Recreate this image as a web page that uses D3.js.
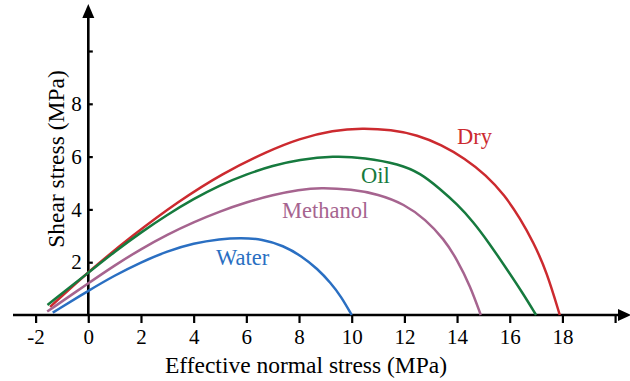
<!DOCTYPE html>
<html>
<head>
<meta charset="utf-8">
<script src="https://cdn.jsdelivr.net/npm/d3@7/dist/d3.min.js"></script>
<style>
  html, body { margin: 0; padding: 0; background: #fff; }
  svg { display: block; }
  text { font-family: "Liberation Serif", "Times New Roman", serif; }
</style>
</head>
<body>
<svg id="chart" width="630" height="381"></svg>
<script>
// Failure envelopes: effective normal stress (MPa) vs shear stress (MPa)
const drySigma = [-1.45, 0, 1.7, 3.4, 5.1, 6.8, 8.0, 9.3, 10.4, 11.5, 12.5, 13.4, 14.3, 15.1, 15.8, 16.4, 16.9, 17.4, 17.9];
const dryTau   = [0.31, 1.64, 3.03, 4.29, 5.37, 6.2, 6.68, 7.0, 7.08, 7.02, 6.82, 6.45, 5.93, 5.3, 4.55, 3.65, 2.75, 1.65, 0];

const oilSigma = [-1.55, 0, 1.0, 2.0, 3.0, 4.0, 5.0, 6.0, 7.0, 8.0, 9.3, 10.5, 11.8, 12.6, 13.35, 14.0, 14.6, 15.2, 15.9, 16.5, 17.0];
const oilTau   = [0.38, 1.6, 2.4, 3.13, 3.8, 4.4, 4.92, 5.33, 5.66, 5.88, 6.03, 5.96, 5.72, 5.38, 4.78, 4.2, 3.55, 2.75, 1.72, 0.82, 0];

const methanolSigma = [-1.56, 0, 1.0, 2.0, 3.0, 4.0, 5.0, 6.0, 7.0, 8.0, 8.8, 10.0, 11.0, 12.0, 12.8, 13.5, 14.0, 14.5, 14.9];
const methanolTau   = [0.13, 1.2, 1.88, 2.5, 3.05, 3.52, 3.93, 4.27, 4.55, 4.74, 4.83, 4.76, 4.58, 4.2, 3.62, 2.88, 2.1, 1.1, 0];

const waterSigma = [-1.35, 0, 1.0, 2.0, 3.0, 4.0, 5.0, 5.8, 6.6, 7.4, 8.1, 8.7, 9.2, 9.6, 10.0];
const waterTau   = [0.09, 0.92, 1.5, 2.0, 2.42, 2.72, 2.88, 2.93, 2.87, 2.63, 2.23, 1.75, 1.22, 0.7, 0];

const seriesNames  = ["Dry", "Oil", "Methanol", "Water"];
const seriesColors = ["#cc2a2f", "#167a3e", "#a6648f", "#2a6fc2"];

const xTickValues = [-2, 0, 2, 4, 6, 8, 10, 12, 14, 16, 18, 20];
const xTickLabels = ["-2", "0", "2", "4", "6", "8", "10", "12", "14", "16", "18", ""];
const yTickValues = [2, 4, 6, 8, 10];
const yTickLabels = ["2", "4", "6", "8", ""];

const xTitle = "Effective normal stress (MPa)";
const yTitle = "Shear stress (MPa)";

const series = [
  { name: seriesNames[0], color: seriesColors[0], s: drySigma, t: dryTau, lx: 457, ly: 144 },
  { name: seriesNames[1], color: seriesColors[1], s: oilSigma, t: oilTau, lx: 361, ly: 183 },
  { name: seriesNames[2], color: seriesColors[2], s: methanolSigma, t: methanolTau, lx: 282, ly: 218 },
  { name: seriesNames[3], color: seriesColors[3], s: waterSigma, t: waterTau, lx: 216, ly: 265 }
];

const svg = d3.select("#chart");

const x = d3.scaleLinear().domain([0, 10]).range([88.3, 351.7]);
const y = d3.scaleLinear().domain([0, 10]).range([315, 51]);

const axisColor = "#000";
const axisWidth = 2.6;

// Axis lines with arrowheads
svg.append("line")
  .attr("x1", 13).attr("x2", 622)
  .attr("y1", y(0)).attr("y2", y(0))
  .attr("stroke", axisColor).attr("stroke-width", axisWidth);
svg.append("path")
  .attr("d", `M${631},${y(0)} L${618},${y(0) - 6} L${618},${y(0) + 6} Z`)
  .attr("fill", axisColor);

svg.append("line")
  .attr("x1", x(0)).attr("x2", x(0))
  .attr("y1", y(0) + 1).attr("y2", 14)
  .attr("stroke", axisColor).attr("stroke-width", axisWidth);
svg.append("path")
  .attr("d", `M${x(0)},${4} L${x(0) - 6},${18} L${x(0) + 6},${18} Z`)
  .attr("fill", axisColor);

// X axis ticks and labels
const gx = svg.append("g")
  .attr("transform", `translate(0,${y(0)})`)
  .call(d3.axisBottom(x)
    .tickValues(xTickValues)
    .tickFormat((d, i) => xTickLabels[i])
    .tickSize(8)
    .tickPadding(6));
gx.select(".domain").remove();
gx.selectAll(".tick line").attr("stroke", axisColor).attr("stroke-width", 2.2).attr("y1", -1);
gx.selectAll(".tick text")
  .attr("fill", "#000")
  .style("font-family", '"Liberation Serif", "Times New Roman", serif')
  .style("font-size", "21px");

// Y axis ticks and labels
const gy = svg.append("g")
  .attr("transform", `translate(${x(0)},0)`)
  .call(d3.axisLeft(y)
    .tickValues(yTickValues)
    .tickFormat((d, i) => yTickLabels[i])
    .tickSize(4.5)
    .tickPadding(2));
gy.select(".domain").remove();
gy.selectAll(".tick line").attr("stroke", axisColor).attr("stroke-width", 2.2).attr("x2", 4.5);
gy.selectAll(".tick text")
  .attr("fill", "#000")
  .style("font-family", '"Liberation Serif", "Times New Roman", serif')
  .style("font-size", "21px");

// Axis titles
svg.append("text")
  .attr("x", 306).attr("y", 373)
  .attr("text-anchor", "middle")
  .style("font-size", "23.5px")
  .attr("fill", "#000")
  .text(xTitle);

svg.append("text")
  .attr("transform", `translate(64,159) rotate(-90)`)
  .attr("text-anchor", "middle")
  .style("font-size", "23.5px")
  .attr("fill", "#000")
  .text(yTitle);

// Envelope curves (B-spline through the sampled points for a smooth trace)
const line = d3.line()
  .x(d => x(d[0]))
  .y(d => y(d[1]))
  .curve(d3.curveBasis);

series.forEach(sr => {
  const pts = sr.s.map((v, i) => [v, sr.t[i]]);
  svg.append("path")
    .datum(pts)
    .attr("d", line)
    .attr("fill", "none")
    .attr("stroke", sr.color)
    .attr("stroke-width", 2.5)
    .attr("stroke-linecap", "butt");
  svg.append("text")
    .attr("x", sr.lx).attr("y", sr.ly)
    .style("font-size", "22.5px")
    .attr("fill", sr.color)
    .text(sr.name);
});
</script>
</body>
</html>
